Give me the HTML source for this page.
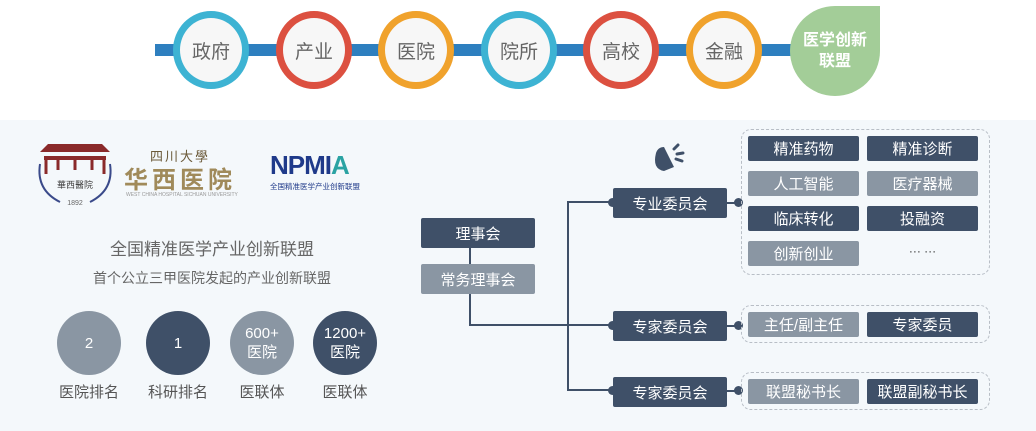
<!DOCTYPE html>
<html><head><meta charset="utf-8"><style>
*{margin:0;padding:0;box-sizing:border-box}
body{width:1036px;height:431px;position:relative;background:#fff;font-family:"Liberation Sans","Noto Sans CJK SC",sans-serif;overflow:hidden}
.abs{position:absolute}
.bg{left:0;top:120px;width:1036px;height:311px;background:#f4f8fb}
.ring{position:absolute;width:76px;height:78px;border-radius:50%;border:7px solid;background:#f7f7f7;display:flex;align-items:center;justify-content:center;font-size:19px;color:#666;top:11px}
.b{position:absolute;display:flex;align-items:center;justify-content:center;color:#fff;border-radius:2px;font-size:15px}
.d{background:#3f5068}.g{background:#8a96a3}
.dash{position:absolute;border:1.5px dashed #b8bec6;border-radius:10px}
.dot{position:absolute;width:9px;height:9px;border-radius:50%;background:#3f5068}
.ln{position:absolute;background:#3f5068}
.c{position:absolute;width:64px;height:64px;border-radius:50%;color:#fff;display:flex;align-items:center;justify-content:center;text-align:center;font-size:15px;line-height:19px;top:311px}
.lab{position:absolute;top:381px;font-size:15px;color:#555;width:90px;text-align:center}
</style></head><body>
<div class="abs" style="left:155px;top:44px;width:645px;height:12px;background:#2e7fbf"></div>
<div class="ring" style="left:173px;border-color:#3db3d3">政府</div>
<div class="ring" style="left:276px;border-color:#dc5040">产业</div>
<div class="ring" style="left:378px;border-color:#f0a22c">医院</div>
<div class="ring" style="left:481px;border-color:#3db3d3">院所</div>
<div class="ring" style="left:583px;border-color:#dc5040">高校</div>
<div class="ring" style="left:686px;border-color:#f0a22c">金融</div>
<div class="abs" style="left:790px;top:6px;width:90px;height:90px;background:#a3cd98;border-radius:45px 0 45px 45px;color:#fff;font-weight:bold;font-size:16px;line-height:21px;display:flex;align-items:center;justify-content:center;text-align:center">医学创新<br>联盟</div>
<div class="abs bg"></div>

<!-- logos -->
<svg class="abs" style="left:30px;top:130px" width="90" height="80">
<path d="M10 22 L18 14 H72 L80 22 Z" fill="#8a2a2a"/><path d="M14 26 H76 V30 H14Z" fill="#8a2a2a"/>
<path d="M16 30 V44 M28 30 V40 M45 30 V40 M62 30 V40 M74 30 V44" stroke="#8a2a2a" stroke-width="3"/>
<path d="M10 34 Q6 60 30 72 M80 34 Q84 60 60 72" stroke="#3a4a8a" stroke-width="2" fill="none"/>
<text x="45" y="58" font-size="9" text-anchor="middle" fill="#444" font-family="Noto Sans CJK SC">華西醫院</text>
<text x="45" y="75" font-size="7" text-anchor="middle" fill="#666">1892</text></svg>
<div class="abs" style="left:150px;top:146px;font-size:13px;color:#6b5a3a;letter-spacing:2px">四川大學</div>
<div class="abs" style="left:124px;top:160px;font-size:24px;color:#a08a5a;font-weight:bold;letter-spacing:4px">华西医院</div>
<div class="abs" style="left:126px;top:192px;font-size:5px;color:#999">WEST CHINA HOSPITAL SICHUAN UNIVERSITY</div>
<div class="abs" style="left:270px;top:150px;font-size:26px;font-weight:bold;color:#1f3a8a;letter-spacing:-1px">NPMI<span style="color:#2aa3a3">A</span></div>
<div class="abs" style="left:270px;top:181px;font-size:7.5px;color:#1f3a8a">全国精准医学产业创新联盟</div>

<div class="abs" style="left:40px;top:235px;width:344px;text-align:center;font-size:17px;color:#666">全国精准医学产业创新联盟</div>
<div class="abs" style="left:40px;top:268px;width:344px;text-align:center;font-size:14px;color:#666">首个公立三甲医院发起的产业创新联盟</div>
<div class="c g" style="left:57px">2</div>
<div class="c d" style="left:146px">1</div>
<div class="c g" style="left:230px">600+<br>医院</div>
<div class="c d" style="left:313px">1200+<br>医院</div>
<div class="lab" style="left:44px">医院排名</div>
<div class="lab" style="left:133px">科研排名</div>
<div class="lab" style="left:217px">医联体</div>
<div class="lab" style="left:300px">医联体</div>

<!-- org -->
<div class="b d" style="left:421px;top:218px;width:114px;height:30px">理事会</div>
<div class="ln" style="left:469px;top:248px;width:2px;height:16px"></div>
<div class="b g" style="left:421px;top:264px;width:114px;height:30px">常务理事会</div>
<div class="ln" style="left:469px;top:294px;width:2px;height:32px"></div>
<div class="ln" style="left:469px;top:324px;width:144px;height:2px"></div>
<div class="ln" style="left:567px;top:201px;width:2px;height:190px"></div>
<div class="ln" style="left:567px;top:201px;width:46px;height:2px"></div>
<div class="ln" style="left:567px;top:389px;width:46px;height:2px"></div>

<svg class="abs" style="left:650px;top:143px" width="40" height="32"><path d="M6 10 Q2 26 14 28 L24 24 L14 4 Q8 4 6 10Z" fill="#3f5068"/><path d="M24 6 L28 2 M27 11 L33 10 M26 16 L32 18" stroke="#3f5068" stroke-width="3" stroke-linecap="round"/></svg>

<div class="b d" style="left:613px;top:188px;width:114px;height:30px">专业委员会</div>
<div class="b d" style="left:613px;top:311px;width:114px;height:30px">专家委员会</div>
<div class="b d" style="left:613px;top:377px;width:114px;height:30px">专家委员会</div>
<div class="dot" style="left:608px;top:198px"></div><div class="dot" style="left:608px;top:321px"></div><div class="dot" style="left:608px;top:386px"></div>
<div class="ln" style="left:727px;top:202px;width:12px;height:2px"></div>
<div class="ln" style="left:727px;top:325px;width:12px;height:2px"></div>
<div class="ln" style="left:727px;top:390px;width:12px;height:2px"></div>
<div class="dot" style="left:734px;top:198px"></div><div class="dot" style="left:734px;top:321px"></div><div class="dot" style="left:734px;top:386px"></div>

<div class="dash" style="left:741px;top:129px;width:249px;height:146px"></div>
<div class="b d" style="left:748px;top:136px;width:111px;height:25px">精准药物</div>
<div class="b d" style="left:867px;top:136px;width:111px;height:25px">精准诊断</div>
<div class="b g" style="left:748px;top:171px;width:111px;height:25px">人工智能</div>
<div class="b g" style="left:867px;top:171px;width:111px;height:25px">医疗器械</div>
<div class="b d" style="left:748px;top:206px;width:111px;height:25px">临床转化</div>
<div class="b d" style="left:867px;top:206px;width:111px;height:25px">投融资</div>
<div class="b g" style="left:748px;top:241px;width:111px;height:25px">创新创业</div>
<div class="abs" style="left:867px;top:244px;width:111px;text-align:center;font-size:12px;color:#333">··· ···</div>

<div class="dash" style="left:741px;top:305px;width:249px;height:38px"></div>
<div class="b g" style="left:748px;top:312px;width:111px;height:25px">主任/副主任</div>
<div class="b d" style="left:867px;top:312px;width:111px;height:25px">专家委员</div>
<div class="dash" style="left:741px;top:372px;width:249px;height:38px"></div>
<div class="b g" style="left:748px;top:379px;width:111px;height:25px">联盟秘书长</div>
<div class="b d" style="left:867px;top:379px;width:111px;height:25px">联盟副秘书长</div>
</body></html>
